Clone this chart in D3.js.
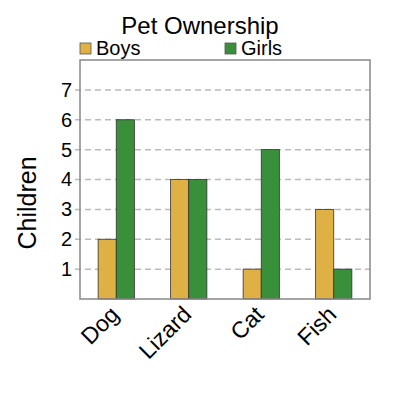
<!DOCTYPE html>
<html>
<head>
<meta charset="utf-8">
<script src="https://cdn.jsdelivr.net/npm/d3@7"></script>
<style>
  body { margin: 0; background: #fff; }
  text { font-family: "Liberation Sans", Arial, sans-serif; fill: #000; }
</style>
</head>
<body>
<div id="chart"></div>
<script>
const WIDTH = 400;
const HEIGHT = 400;
const MARGIN = {top: 60, right: 30, bottom: 101, left: 80};
const INNER_WIDTH = WIDTH - MARGIN.left - MARGIN.right;
const INNER_HEIGHT = HEIGHT - MARGIN.top - MARGIN.bottom;

// data
var pets = ["Dog", "Lizard", "Cat", "Fish"];
var series = ["Boys", "Girls"];
var boys = [2, 4, 1, 3];
var girls = [6, 4, 5, 1];
var yTicks = [1, 2, 3, 4, 5, 6, 7];
var colors = ["#dfb145", "#3a8f3a"];

var translate = function(x, y) {
  return "translate(" + x + "," + y + ")";
};

var rows = pets.map(function(p, i) {
  return {pet: p, values: [boys[i], girls[i]]};
});

var svg = d3.select("#chart").append("svg")
  .attr("width", WIDTH)
  .attr("height", HEIGHT);

var xScale = d3.scaleBand()
  .domain(pets)
  .range([0, INNER_WIDTH])
  .paddingInner(0.5)
  .paddingOuter(0.25);

var subScale = d3.scaleBand()
  .domain(series)
  .range([0, xScale.bandwidth()]);

var yScale = d3.scaleLinear()
  .domain([0, 8])
  .range([INNER_HEIGHT, 0]);

var g = svg.append("g").attr("transform", translate(MARGIN.left, MARGIN.top));

// grid
g.selectAll(".grid")
  .data(yTicks)
  .enter().append("line")
  .attr("x1", -5)
  .attr("x2", INNER_WIDTH)
  .attr("y1", function(d) { return yScale(d); })
  .attr("y2", function(d) { return yScale(d); })
  .attr("stroke", "#bbb")
  .attr("stroke-width", 1.5)
  .attr("stroke-dasharray", "6,4");

// y axis labels
var yAxis = d3.axisLeft(yScale).tickValues(yTicks).tickSize(0).tickPadding(8);
var yg = g.append("g").call(yAxis);
yg.select(".domain").remove();
yg.selectAll("text")
  .style("font-size", "20px")
  .attr("fill", "#000");

// bars
var groups = g.selectAll(".group")
  .data(rows)
  .enter().append("g")
  .attr("transform", function(d) { return translate(xScale(d.pet), 0); });

groups.selectAll("rect")
  .data(function(d) { return d.values; })
  .enter().append("rect")
  .attr("x", function(d, i) { return subScale(series[i]); })
  .attr("width", subScale.bandwidth())
  .attr("y", function(d) { return yScale(d); })
  .attr("height", function(d) { return INNER_HEIGHT - yScale(d); })
  .attr("fill", function(d, i) { return colors[i]; })
  .attr("stroke", "#333")
  .attr("stroke-width", 0.8);

// frame
g.append("rect")
  .attr("width", INNER_WIDTH)
  .attr("height", INNER_HEIGHT)
  .attr("fill", "none")
  .attr("stroke", "#888")
  .attr("stroke-width", 1.5);

// x axis labels
var xAxis = d3.axisBottom(xScale).tickSize(0).tickPadding(0);
var xg = g.append("g").attr("transform", translate(0, INNER_HEIGHT)).call(xAxis);
xg.select(".domain").remove();
xg.selectAll("text")
  .style("font-size", "23px")
  .attr("fill", "#000")
  .attr("text-anchor", "end")
  .attr("dy", null)
  .attr("y", 0)
  .attr("transform", "translate(4,17) rotate(-45)");

// y title
svg.append("text")
  .attr("transform", translate(36, 203) + " rotate(-90)")
  .attr("text-anchor", "middle")
  .style("font-size", "25px")
  .text("Children");

// title
svg.append("text")
  .attr("x", 200)
  .attr("y", 34)
  .attr("text-anchor", "middle")
  .style("font-size", "24px")
  .text("Pet Ownership");

// legend
var legend = svg.selectAll(".legend")
  .data(series)
  .enter().append("g")
  .attr("transform", function(d, i) { return translate(80 + i * 145, 43); });

legend.append("rect")
  .attr("width", 11)
  .attr("height", 11)
  .attr("fill", function(d, i) { return colors[i]; })
  .attr("stroke", "#555")
  .attr("stroke-width", 0.8);

legend.append("text")
  .attr("x", 16)
  .attr("y", 12)
  .style("font-size", "20px")
  .text(function(d) { return d; });
</script>
</body>
</html>
